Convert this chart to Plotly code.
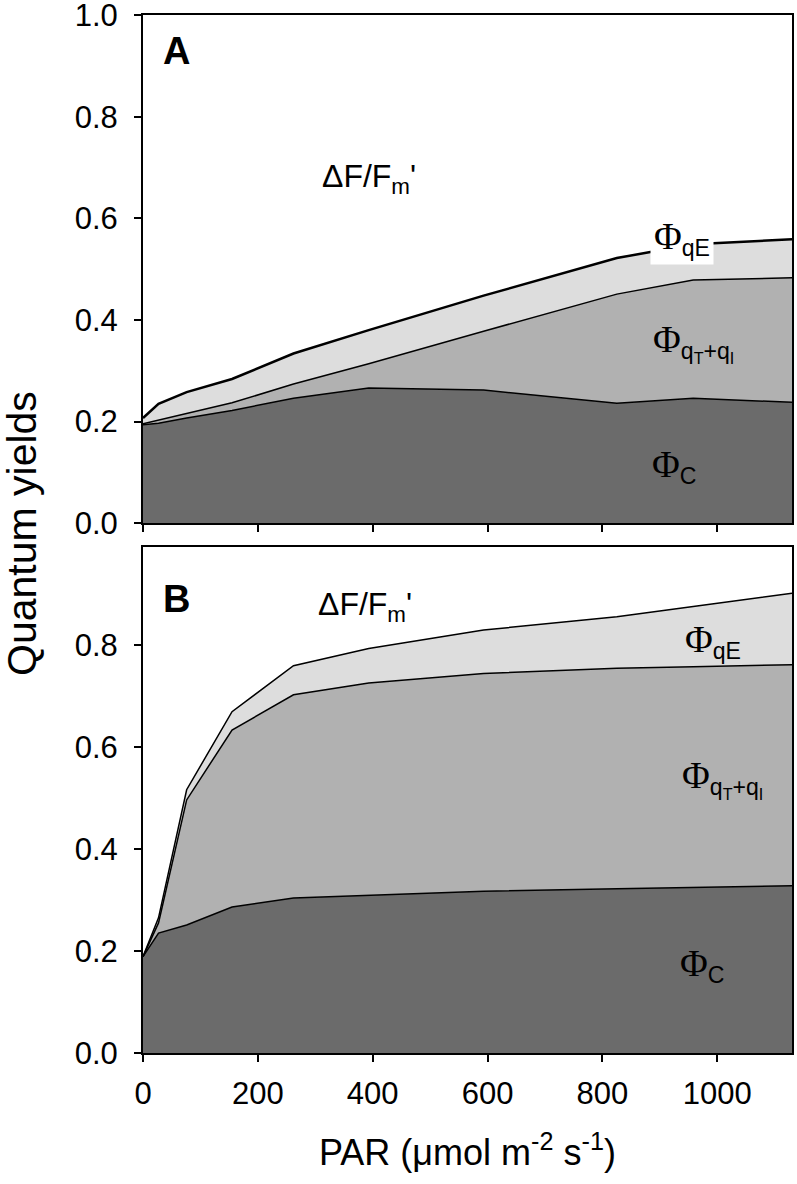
import plotly.graph_objects as go

# PAR levels (µmol m-2 s-1)
par = [0, 27, 76, 155, 262, 393, 593, 825, 958, 1130]

# Panel A: quantum yield components (stacked)
a_phi_c = [0.194, 0.197, 0.207, 0.222, 0.246, 0.266, 0.262, 0.236, 0.246, 0.238]
a_phi_qti = [0.002, 0.006, 0.008, 0.015, 0.028, 0.048, 0.116, 0.215, 0.233, 0.245]
a_phi_qe = [0.011, 0.032, 0.043, 0.047, 0.060, 0.066, 0.070, 0.071, 0.070, 0.076]

# Panel B: quantum yield components (stacked)
b_phi_c = [0.189, 0.235, 0.251, 0.286, 0.304, 0.309, 0.317, 0.322, 0.325, 0.328]
b_phi_qti = [0.000, 0.020, 0.245, 0.347, 0.398, 0.416, 0.427, 0.432, 0.432, 0.433]
b_phi_qe = [0.000, 0.010, 0.020, 0.036, 0.057, 0.068, 0.085, 0.101, 0.118, 0.140]

x_ticks = [0, 200, 400, 600, 800, 1000]
y_ticks_a = [0.0, 0.2, 0.4, 0.6, 0.8, 1.0]
y_ticks_b = [0.0, 0.2, 0.4, 0.6, 0.8]

C_DARK = "#6b6b6b"
C_MID = "#b1b1b1"
C_LIGHT = "#dddddd"
FONT = "Liberation Sans, Arial, sans-serif"

fig = go.Figure()


def add_panel(xa, ya, grp, c, qti, qe, top_w):
    fig.add_trace(go.Scatter(x=par, y=c, xaxis=xa, yaxis=ya, stackgroup=grp,
                             mode="lines", line=dict(color="black", width=1.5),
                             fillcolor=C_DARK, showlegend=False, hoverinfo="skip"))
    fig.add_trace(go.Scatter(x=par, y=qti, xaxis=xa, yaxis=ya, stackgroup=grp,
                             mode="lines", line=dict(color="black", width=1.5),
                             fillcolor=C_MID, showlegend=False, hoverinfo="skip"))
    fig.add_trace(go.Scatter(x=par, y=qe, xaxis=xa, yaxis=ya, stackgroup=grp,
                             mode="lines", line=dict(color="black", width=top_w),
                             fillcolor=C_LIGHT, showlegend=False, hoverinfo="skip"))


add_panel("x", "y", "A", a_phi_c, a_phi_qti, a_phi_qe, 2.5)
add_panel("x2", "y2", "B", b_phi_c, b_phi_qti, b_phi_qe, 1.5)

axis_common = dict(showline=True, linecolor="black", linewidth=2, mirror=True,
                   ticks="outside", ticklen=7, tickwidth=2, tickcolor="black",
                   showgrid=False, zeroline=False, automargin=False,
                   ticklabeloverflow="allow",
                   tickfont=dict(family=FONT, size=31, color="black"))

fig.update_layout(
    width=797, height=1184,
    margin=dict(l=143, r=5, t=15, b=131, autoexpand=False),
    paper_bgcolor="white", plot_bgcolor="white",
    xaxis=dict(domain=[0, 1], anchor="y", range=[0, 1130], tickvals=x_ticks,
               showticklabels=False, **axis_common),
    yaxis=dict(domain=[0.5104, 1], anchor="x", range=[0, 1.0005], tickvals=y_ticks_a,
               ticktext=["%.1f" % v for v in y_ticks_a], ticklabelstandoff=10,
               **axis_common),
    xaxis2=dict(domain=[0, 1], anchor="y2", range=[0, 1130], tickvals=x_ticks,
                ticktext=[str(v) for v in x_ticks], ticklabelstandoff=5, **axis_common),
    yaxis2=dict(domain=[0, 0.4876], anchor="x2", range=[0, 0.992], tickvals=y_ticks_b,
                ticktext=["%.1f" % v for v in y_ticks_b], ticklabelstandoff=10,
                **axis_common),
    showlegend=False,
)

PHI = '<span style="font-family:Liberation Serif;font-size:38px">Φ</span>'
annots = []


def txt(text, x, y, xref, yref, size=33, bold=False, bg=None, xanchor="left"):
    d = dict(text=("<b>%s</b>" % text) if bold else text, x=x, y=y, xref=xref, yref=yref,
             xanchor=xanchor, yanchor="middle", showarrow=False,
             font=dict(family=FONT, size=size, color="black"))
    if bg:
        d.update(bgcolor=bg, borderpad=3)
    annots.append(d)


# Panel A labels
txt("A", 32, 0.93, "x", "y", size=38, bold=True)
txt("ΔF/F<sub>m</sub>'", 309, 0.678, "x", "y", size=32)
txt(PHI + "<sub>qE</sub>", 883, 0.562, "x", "y", bg="white")
txt(PHI + "<sub>q<sub>T</sub>+q<sub>I</sub></sub>", 885, 0.355, "x", "y")
txt(PHI + "<sub>C</sub>", 883, 0.113, "x", "y")

# Panel B labels
txt("B", 32, 0.89, "x2", "y2", size=38, bold=True)
txt("ΔF/F<sub>m</sub>'", 302, 0.876, "x2", "y2", size=32)
txt(PHI + "<sub>qE</sub>", 941, 0.808, "x2", "y2")
txt(PHI + "<sub>q<sub>T</sub>+q<sub>I</sub></sub>", 935, 0.538, "x2", "y2")
txt(PHI + "<sub>C</sub>", 932, 0.172, "x2", "y2")

# Axis titles
plot_w = 792 - 143
annots.append(dict(text="Quantum yields", x=(22 - 143) / plot_w, y=0.5,
                   xref="paper", yref="paper",
                   xanchor="center", yanchor="middle", showarrow=False, textangle=-90,
                   font=dict(family=FONT, size=41, color="black")))
annots.append(dict(text="PAR (μmol m<sup>-2</sup> s<sup>-1</sup>)", x=0.5, y=-0.093,
                   xref="paper", yref="paper", xanchor="center", yanchor="middle",
                   showarrow=False, font=dict(family=FONT, size=36, color="black")))

fig.update_layout(annotations=annots)
fig.write_html("out.html", config={"displayModeBar": False},
               post_script="document.body.style.margin='0';")
